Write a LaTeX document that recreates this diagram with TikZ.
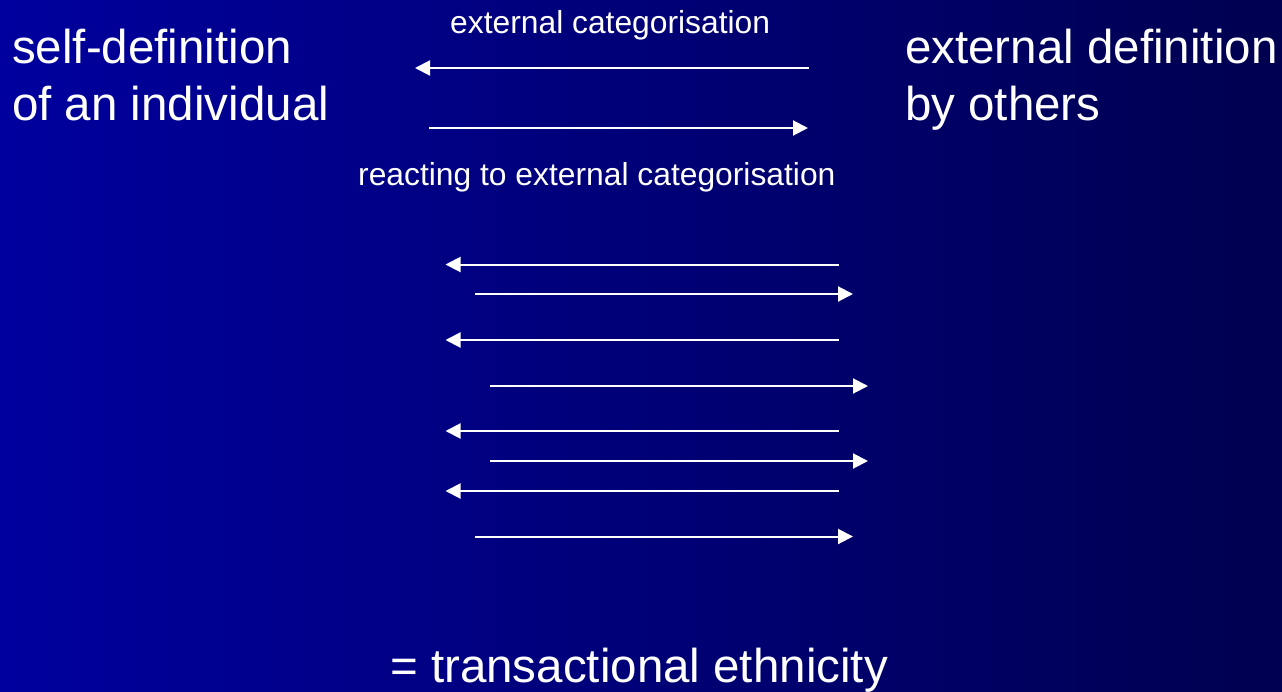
\documentclass[tikz,border=0pt]{standalone}
\usepackage{fontspec}
\setmainfont{Liberation Sans}
\usetikzlibrary{arrows.meta}
\definecolor{bgleft}{RGB}{0,0,158}
\definecolor{bgmid}{RGB}{0,0,132}
\definecolor{bgright}{RGB}{0,0,80}
\begin{document}
\begin{tikzpicture}[x=1pt,y=-1pt,
  bigtext/.style={text=white,inner sep=0pt,anchor=base west,align=left,
    font=\fontsize{47.5}{57}\selectfont},
  smalltext/.style={text=white,inner sep=0pt,anchor=base west,
    font=\fontsize{31.8}{38}\selectfont},
  arr/.style={draw=white,line width=2pt,-{Triangle[length=15pt,width=15pt]}}]
\shade[left color=bgleft,middle color=bgmid,right color=bgright] (0,0) rectangle (1282,691);
\useasboundingbox (0,0) rectangle (1282,691);
% labels (base anchor = baseline of the last line)
\node[bigtext] (self) at (12,120) {self-definition\\of an individual};
\node[bigtext] (ext) at (905,120) {external definition\\by others};
\node[smalltext] (cat) at (450,33) {external categorisation};
\node[smalltext] (react) at (358,185) {reacting to external categorisation};
\node[bigtext] (trans) at (390,682) {= transactional ethnicity};
% top arrows
\coordinate (a1s) at (809,68); \coordinate (a1e) at (415,68);
\coordinate (a2s) at (429,128); \coordinate (a2e) at (808,128);
\draw[arr] (a1s) -- (a1e);
\draw[arr] (a2s) -- (a2e);
% lower arrows
\coordinate (b1s) at (839,264.5); \coordinate (b1e) at (445.5,264.5);
\coordinate (b2s) at (475,294); \coordinate (b2e) at (853,294);
\coordinate (b3s) at (839,340); \coordinate (b3e) at (445.5,340);
\coordinate (b4s) at (490,386); \coordinate (b4e) at (868,386);
\coordinate (b5s) at (839,431); \coordinate (b5e) at (445.5,431);
\coordinate (b6s) at (490,461); \coordinate (b6e) at (868,461);
\coordinate (b7s) at (839,491); \coordinate (b7e) at (445.5,491);
\coordinate (b8s) at (475,536.5); \coordinate (b8e) at (853,536.5);
\foreach \i in {1,...,8} {\draw[arr] (b\i s) -- (b\i e);}
\end{tikzpicture}
\end{document}
